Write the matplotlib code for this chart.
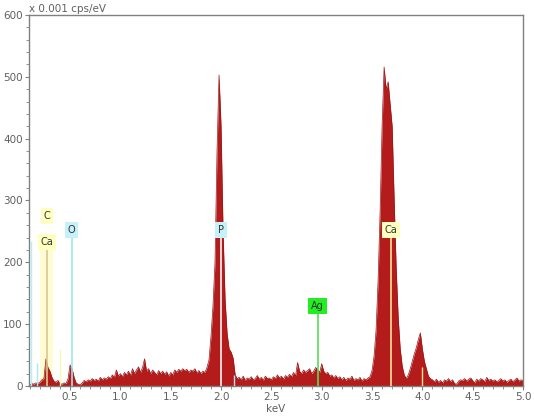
import numpy as np
import matplotlib
matplotlib.use("Agg")
import matplotlib.pyplot as plt
import matplotlib.ticker as ticker

# --- spectrum data (counts x 0.001 cps/eV), channels every 0.02 keV from 0.10 keV ---
energy_start = 0.10
energy_step = 0.02
counts = [
    2, 4, 3, 5, 4, 6, 10, 12, 44, 30,          # 0.10 - 0.28
    24, 14, 8, 6, 9, 4, 3, 5, 4, 12,           # 0.30 - 0.48
    34, 28, 14, 5, 3, 2, 5, 9, 7, 10,          # 0.50 - 0.68
    8, 12, 9, 11, 8, 14, 10, 13, 11, 15,       # 0.70 - 0.88
    12, 18, 14, 26, 16, 20, 15, 22, 18, 24,    # 0.90 - 1.08
    17, 28, 20, 26, 31, 22, 30, 44, 24, 28,    # 1.10 - 1.28
    20, 26, 22, 18, 25, 20, 24, 19, 23, 16,    # 1.30 - 1.48
    22, 18, 26, 22, 27, 24, 28, 25, 27, 22,    # 1.50 - 1.68
    26, 24, 28, 21, 25, 20, 24, 22, 30, 42,    # 1.70 - 1.88
    80, 130, 200, 380, 503, 420, 250, 140, 85, 60,   # 1.90 - 2.08 (P)
    55, 45, 18, 12, 14, 10, 16, 9, 13, 11,     # 2.10 - 2.28
    15, 10, 12, 17, 11, 14, 9, 16, 12, 13,     # 2.30 - 2.48
    10, 15, 12, 18, 13, 16, 11, 17, 14, 19,    # 2.50 - 2.68
    15, 22, 16, 38, 24, 20, 26, 22, 25, 28,    # 2.70 - 2.88
    20, 24, 30, 26, 22, 36, 24, 20, 22, 16,    # 2.90 - 3.08
    18, 13, 17, 12, 15, 10, 14, 9, 13, 11,     # 3.10 - 3.28
    16, 9, 12, 10, 14, 8, 12, 10, 13, 15,      # 3.30 - 3.48
    25, 48, 90, 170, 280, 420, 516, 480, 492, 455,   # 3.50 - 3.68 (Ca Ka)
    420, 300, 190, 110, 60, 32, 18, 12, 18, 28,  # 3.70 - 3.88
    40, 52, 62, 75, 86, 60, 40, 28, 16, 12,    # 3.90 - 4.08 (Ca Kb)
    10, 7, 11, 6, 9, 5, 10, 8, 12, 7,          # 4.10 - 4.28
    10, 4, 3, 8, 10, 9, 12, 8, 11, 13,         # 4.30 - 4.48
    9, 5, 11, 8, 12, 10, 7, 14, 9, 11,         # 4.50 - 4.68
    8, 10, 7, 9, 12, 8, 10, 6, 9, 11,          # 4.70 - 4.88
    7, 10, 13, 8, 10, 9,                       # 4.90 - 5.00
]

# --- element markers ---
label_names = ['C', 'Ca', 'O', 'P', 'Ag', 'Ca']
label_energy = [0.27, 0.27, 0.515, 2.00, 2.96, 3.69]
label_height = [275, 233, 252, 252, 130, 252]
label_colors = ['#ffffc0', '#ffffc0', '#c4f2f8', '#c4f2f8', '#22ee22', '#ffffc0']
line_colors = ['#e8dca0', '#d8c890', '#9ee6f0', '#eef8fa', '#55dd55', '#ffe49a']

# extra (unlabelled) marker lines
minor_energy = [0.11, 0.17, 0.40, 2.13, 4.00]
minor_height = [235, 37, 60, 18, 30]
minor_colors = ['#b8eef4', '#a8e8f0', '#fff6b0', '#a8e8f0', '#ffe49a']

energy = energy_start + energy_step * np.arange(len(counts))

fig = plt.figure(figsize=(5.34, 4.20), dpi=100)
ax = fig.add_axes([29 / 534, 34 / 420, 494 / 534, 371 / 420])

# faixa amarela clara sob o C/Ca
ax.axvspan(0.20, 0.33, ymin=0, ymax=223 / 600, color='#fffbd2', zorder=0, lw=0)

# espectro
ax.fill_between(energy, 0, counts, color='#b41c1c', lw=0, zorder=2)
ax.plot(energy, counts, color='#9a1616', lw=0.5, zorder=2)

# linhas dos elementos
for e, h, c in zip(minor_energy, minor_height, minor_colors):
    ax.vlines(e, 0, h, color=c, lw=1.0, zorder=3)

for name, e, h, fc, lc in zip(label_names, label_energy, label_height,
                              label_colors, line_colors):
    if name != 'C':
        ax.vlines(e, 0, h - 8, color=lc, lw=1.2, zorder=3)
    ax.text(e, h, name, ha='center', va='center', fontsize=7, color='#333333',
            zorder=5, bbox=dict(boxstyle='square,pad=0.3', fc=fc, ec='none'))

# eixos
ax.set_xlim(0.092, 5.0)
ax.set_ylim(0, 600)
ax.xaxis.set_major_locator(ticker.MultipleLocator(0.5))
ax.xaxis.set_minor_locator(ticker.MultipleLocator(0.1))
ax.yaxis.set_major_locator(ticker.MultipleLocator(100))
ax.yaxis.set_minor_locator(ticker.MultipleLocator(20))
ax.xaxis.set_major_formatter(ticker.FormatStrFormatter('%.1f'))

for s in ax.spines.values():
    s.set_color('#808080')
    s.set_linewidth(1.0)
ax.tick_params(which='both', colors='#808080', labelcolor='#606060',
               labelsize=7.5, direction='out', pad=1.5)
ax.tick_params(which='major', length=3)
ax.tick_params(which='minor', length=2)

ax.set_xlabel('keV', fontsize=7.5, color='#606060', labelpad=1)
ax.text(0.0, 1.004, 'x 0.001 cps/eV', transform=ax.transAxes, ha='left',
        va='bottom', fontsize=7.5, color='#606060')

fig.savefig('out.png', dpi=100)
